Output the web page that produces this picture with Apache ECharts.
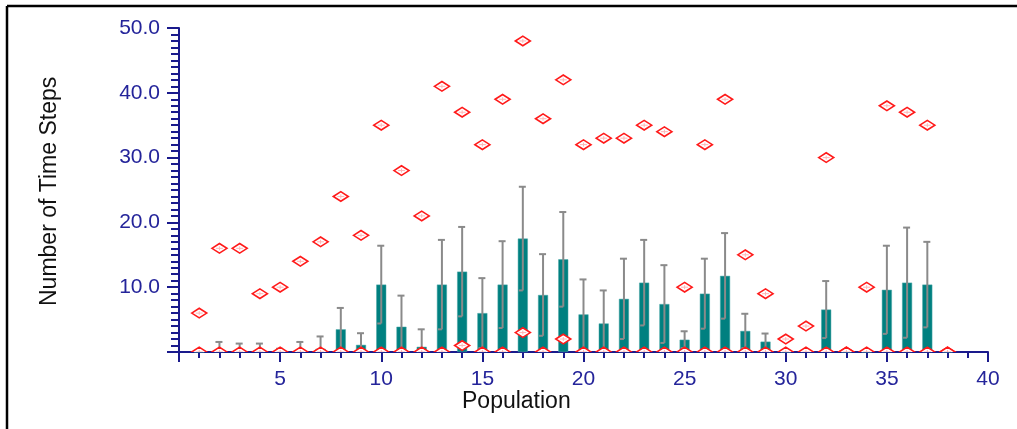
<!DOCTYPE html>
<html>
<head>
<meta charset="utf-8">
<script src="https://cdn.jsdelivr.net/npm/echarts@6/dist/echarts.min.js"></script>
<style>
  html, body { margin: 0; padding: 0; background: #ffffff; }
  #chart { width: 1017px; height: 429px; }
</style>
</head>
<body>
<div id="chart"></div>
<script>
// Population sizes (x) and time-step statistics for each
const populations = [1, 2, 3, 4, 5, 6, 7, 8, 9, 10, 11, 12, 13, 14, 15, 16, 17, 18, 19, 20,
  21, 22, 23, 24, 25, 26, 27, 28, 29, 30, 31, 32, 33, 34, 35, 36, 37, 38];
const meanSteps = [0, 0.15, 0.15, 0.15, 0.2, 0.15, 0.5, 3.5, 1.1, 10.4, 3.9, 0.8, 10.4, 12.4, 6.0, 10.4, 17.5, 8.8, 14.3, 5.8,
  4.4, 8.2, 10.7, 7.4, 1.9, 9.0, 11.75, 3.25, 1.6, 0, 0.15, 6.55, 0, 0, 9.6, 10.7, 10.4, 0];
const sdSteps = [0, 1.4, 1.15, 1.15, 0.3, 1.4, 1.9, 3.3, 1.8, 6.0, 4.8, 2.7, 6.9, 6.9, 5.4, 6.7, 8.0, 6.3, 7.3, 5.4,
  5.1, 6.2, 6.6, 6.0, 1.3, 5.4, 6.6, 2.65, 1.25, 0, 0, 4.4, 0, 0, 6.8, 8.5, 6.6, 0];
const maxSteps = [6, 16, 16, 9, 10, 14, 17, 24, 18, 35, 28, 21, 41, 37, 32, 39, 48, 36, 42, 32,
  33, 33, 35, 34, 10, 32, 39, 15, 9, 2, 4, 30, 0, 10, 38, 37, 35, 0];
const minSteps = [0, 0, 0, 0, 0, 0, 0, 0, 0, 0, 0, 0, 0, 1, 0, 0, 3, 0, 2, 0,
  0, 0, 0, 0, 0, 0, 0, 0, 0, 0, 0, 0, 0, 0, 0, 0, 0, 0];

// Axis ticks
const xLabelStep = 5;
const yLabelStep = 10;

const axisBlue = '#1a1a8c';
const labelBlue = '#24249a';
const font = '"Liberation Sans", Arial, sans-serif';

const barData = populations.map((p, i) => [p, meanSteps[i]]);
const errData = populations.map((p, i) => [p, meanSteps[i], sdSteps[i]]);
const markerData = [];
populations.forEach((p, i) => {
  markerData.push([p, maxSteps[i]]);
  markerData.push([p, minSteps[i]]);
});

// Standard-deviation whiskers: vertical stroke with caps
function renderError(params, api) {
  const x = api.value(0), m = api.value(1), s = api.value(2);
  if (!(s > 0)) return null;
  const top = api.coord([x, m + s]);
  const low = m - s;
  const bot = api.coord([x, Math.max(low, 0)]);
  const style = { stroke: '#8a8a8a', lineWidth: 2 };
  const children = [
    { type: 'line', shape: { x1: top[0], y1: top[1], x2: bot[0], y2: bot[1] }, style },
    { type: 'line', shape: { x1: top[0] - 4, y1: top[1], x2: top[0] + 3, y2: top[1] }, style }
  ];
  if (low > 0) {
    children.push({ type: 'line', shape: { x1: bot[0] - 4, y1: bot[1], x2: bot[0], y2: bot[1] }, style });
  }
  return { type: 'group', children };
}

// Open red diamonds for the extreme values
function renderMarker(params, api) {
  const c = api.coord([api.value(0), api.value(1)]);
  const w = 7.5, h = 4.8;
  return {
    type: 'group',
    children: [
      { type: 'polygon', shape: { points: [[c[0] - w, c[1]], [c[0], c[1] - h], [c[0] + w, c[1]], [c[0], c[1] + h]] },
        style: { fill: '#ffffff', stroke: '#ff1a1a', lineWidth: 1.6 } },
      { type: 'line', shape: { x1: c[0] - 3.5, y1: c[1], x2: c[0] + 3.5, y2: c[1] },
        style: { stroke: '#ffb4b4', lineWidth: 1 } },
      { type: 'line', shape: { x1: c[0], y1: c[1] - 2, x2: c[0], y2: c[1] + 2 },
        style: { stroke: '#ffb4b4', lineWidth: 1 } }
    ]
  };
}

const chart = echarts.init(document.getElementById('chart'));
chart.setOption({
  animation: false,
  backgroundColor: '#ffffff',
  grid: { left: 179, right: 29, top: 28, bottom: 77 },
  xAxis: {
    type: 'value', min: 0, max: 40, interval: xLabelStep,
    axisLine: { show: true, onZero: false, lineStyle: { color: axisBlue, width: 2 } },
    axisTick: { show: true, length: 10, lineStyle: { color: axisBlue, width: 2 } },
    minorTick: { show: true, splitNumber: 5, length: 6, lineStyle: { color: axisBlue, width: 2 } },
    splitLine: { show: false },
    axisLabel: {
      color: labelBlue, fontFamily: font, fontSize: 21, margin: 17,
      formatter: v => (v === 0 ? '' : String(v))
    }
  },
  yAxis: {
    type: 'value', min: 0, max: 50, interval: yLabelStep,
    axisLine: { show: true, lineStyle: { color: axisBlue, width: 2 } },
    axisTick: { show: true, length: 12, lineStyle: { color: axisBlue, width: 2 } },
    minorTick: { show: true, splitNumber: 10, length: 8, lineStyle: { color: axisBlue, width: 2 } },
    splitLine: { show: false },
    axisLabel: {
      color: labelBlue, fontFamily: font, fontSize: 21, margin: 19,
      formatter: v => (v === 0 ? '' : v.toFixed(1))
    }
  },
  graphic: [
    { type: 'line', shape: { x1: 7, y1: 6, x2: 1017, y2: 6 }, style: { stroke: '#000', lineWidth: 2.5 } },
    { type: 'line', shape: { x1: 7, y1: 6, x2: 7, y2: 429 }, style: { stroke: '#000', lineWidth: 2.5 } },
    { type: 'text', left: 462, top: 390,
      style: { text: 'Population', fill: '#111', font: '23px ' + font } },
    { type: 'text', x: 38, y: 306, rotation: Math.PI / 2,
      style: { text: 'Number of Time Steps', fill: '#111', font: '23px ' + font } }
  ],
  series: [
    {
      type: 'bar', data: barData, barWidth: 10,
      itemStyle: { color: '#008080', borderColor: '#4aa6a6', borderWidth: 0.5 }
    },
    { type: 'custom', data: errData, renderItem: renderError, clip: true, z: 3 },
    { type: 'custom', data: markerData, renderItem: renderMarker, clip: true, z: 4 }
  ]
});
</script>
</body>
</html>
